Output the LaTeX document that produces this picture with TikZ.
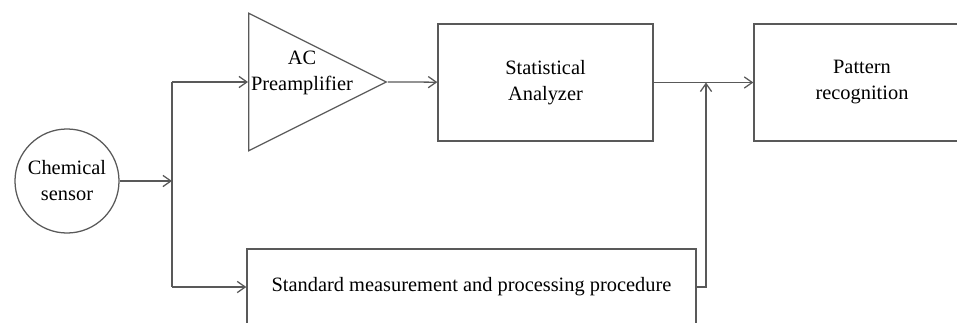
\documentclass[tikz,border=0pt]{standalone}
\usepackage{fontspec}
\setmainfont{Liberation Serif}
\usetikzlibrary{arrows.meta, shapes.geometric}

\tikzset{
  wire/.style={draw=black!65, line width=0.9pt},
  arr/.style={wire, -{Straight Barb[length=2mm,width=2.8mm]}},
  txt/.style={align=center, font=\fontsize{14.5}{18.5}\selectfont, inner sep=0pt},
  blockbox/.style={wire, txt, rectangle},
  sensorcirc/.style={wire, txt, circle, minimum size=2.6cm},
  amptri/.style={wire, isosceles triangle, isosceles triangle stretches,
    shape border rotate=0, minimum width=3.44cm, minimum height=3.44cm,
    inner sep=0pt, anchor=west}
}

\begin{document}
\begin{tikzpicture}[x=0.025cm, y=-0.025cm]
  \useasboundingbox (0,0) rectangle (957,322);
  \clip (0,0) rectangle (957,322);
  % blocks
  \node[sensorcirc] (sensor) at (67,181) {Chemical\\sensor};
  \node[amptri] (amp) at (248,82) {};
  \node[txt] (amplabel) at (302,73) {AC\\Preamplifier};
  \node[blockbox, minimum width=5.375cm, minimum height=2.925cm] (stat) at (545.5,82.5) {Statistical\\Analyzer};
  \node[blockbox, minimum width=5.4cm, minimum height=2.925cm] (pat) at (862,82.5) {Pattern\\recognition};
  \node[blockbox, minimum width=11.225cm, minimum height=1.9cm] (std) at (471.5,287) {Standard measurement and processing procedure};
  % branch points
  \coordinate (split) at (172,181);
  \coordinate (top) at (172,82);
  \coordinate (bot) at (172,287);
  \coordinate (merge) at (706,82.5);
  % connectors
  \draw[wire] (top) -- (bot);
  \draw[arr] (sensor) -- (split);
  \draw[arr] (top) -- (amp.west);
  \draw[arr] (amp.east) -- (stat);
  \draw[arr] (stat) -- (pat);
  \draw[arr] (bot) -- (std);
  \draw[arr] (std.east) -| (merge);
\end{tikzpicture}
\end{document}
